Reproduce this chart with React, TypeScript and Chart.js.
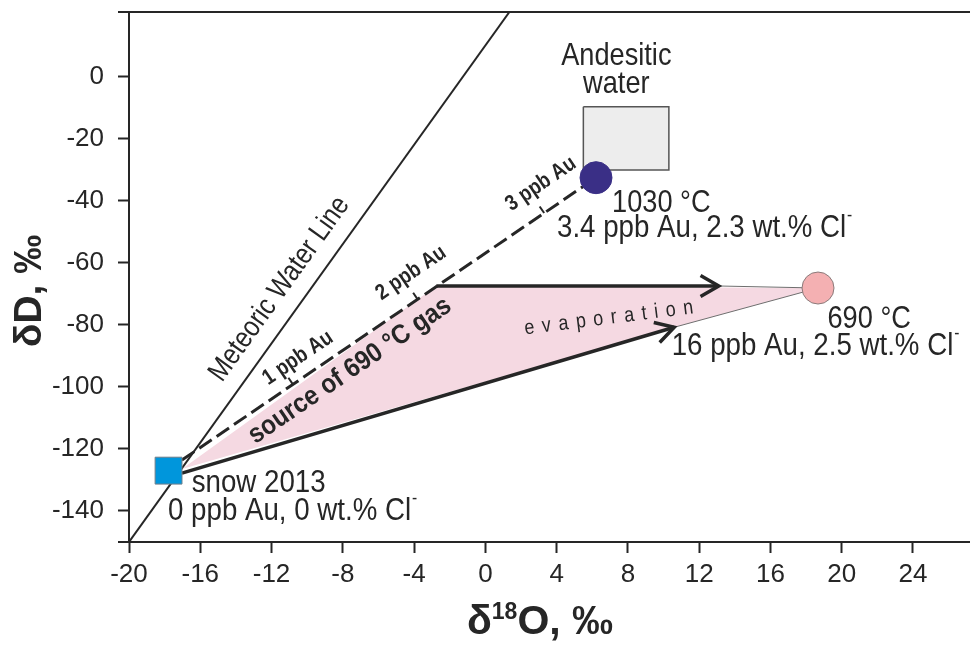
import React, { useEffect, useRef } from 'react';
import { Chart, registerables } from 'chart.js';
Chart.register(...registerables);

// ---------- axis ticks ----------
const xTickValues = [-20, -16, -12, -8, -4, 0, 4, 8, 12, 16, 20, 24];
const yTickValues = [-140, -120, -100, -80, -60, -40, -20, 0];

// ---------- data (δ18O, δD in ‰) ----------
// Meteoric Water Line  δD = 8·δ18O + 10
const mwlX = [-20, 1.35];
const mwlY = [-150, 20.8];

const snowX = [-17.78];
const snowY = [-127];

const magmaX = [6.21]; // 1030 °C
const magmaY = [-32.6];

const gasX = [18.67]; // 690 °C
const gasY = [-68.15];

const andesiticX = [5.5, 10.3, 10.3, 5.5, 5.5];
const andesiticY = [-9.7, -9.7, -30.1, -30.1, -9.7];

const mixingX = [-17.03, 6.21];
const mixingY = [-123.6, -32.6];

const auTickX = [-10.8, -3.8, 3.3];
const auTickLabels = ['1 ppb Au', '2 ppb Au', '3 ppb Au'];

const upperArrowX = [-2.75, 13.1];
const upperArrowY = [-67.5, -67.5];
const upperTailX = [13.1, 18.67];
const upperTailY = [-67.5, -68.15];

const lowerArrowX = [-17.03, 10.6];
const lowerArrowY = [-127.8, -80.8];
const lowerTailX = [10.6, 18.67];
const lowerTailY = [-80.8, -68.15];

const fieldX = [-17.03, -2.75, 18.67, 10.6];
const fieldY = [-126.5, -67.5, -68.15, -80.8];

// ---------- styling / layout ----------
const FONT = "'Liberation Sans', Arial, Helvetica, sans-serif";
const INK = '#262626';
const COND = 0.865; // horizontal condensing of annotation text

const pts = (xs: number[], ys: number[]) => xs.map((x, i) => ({ x, y: ys[i] }));

type Lbl = {
  text: string; x: number; y: number; size: number; bold?: boolean;
  align?: 'left' | 'center'; baseline?: CanvasTextBaseline;
  along?: 'mwl' | 'mix'; angle?: number; spacing?: number; sup?: string; h?: number;
};

const labels: Lbl[] = [
  { text: 'Andesitic', x: 7.35, y: 3.7, size: 32, align: 'center', h: 0.85 },
  { text: 'water', x: 7.35, y: -5.3, size: 32, align: 'center', h: 0.85 },
  { text: '1030 °C', x: 7.11, y: -43.6, size: 32, h: 0.85 },
  { text: '3.4 ppb Au, 2.3 wt.% Cl', sup: '-', x: 4.02, y: -51.7, size: 32 },
  { text: '690 °C', x: 19.2, y: -81, size: 32, h: 0.85 },
  { text: '16 ppb Au, 2.5 wt.% Cl', sup: '-', x: 10.46, y: -89.7, size: 32 },
  { text: 'snow 2013', x: -16.48, y: -133.8, size: 32 },
  { text: '0 ppb Au, 0 wt.% Cl', sup: '-', x: -17.81, y: -142.9, size: 32 },
  { text: 'Meteoric Water Line', x: -11.55, y: -68.5, size: 29, align: 'center', baseline: 'middle', along: 'mwl', h: 0.85 },
  { text: 'source of 690 °C gas', x: -7.6, y: -94.8, size: 27, bold: true, align: 'center', baseline: 'middle', along: 'mix', h: 0.9 },
  { text: auTickLabels[0], x: -10.52, y: -90.7, size: 22, bold: true, align: 'center', baseline: 'middle', along: 'mix', h: 0.85 },
  { text: auTickLabels[1], x: -4.17, y: -63.3, size: 22, bold: true, align: 'center', baseline: 'middle', along: 'mix', h: 0.85 },
  { text: auTickLabels[2], x: 3.12, y: -34.6, size: 22, bold: true, align: 'center', baseline: 'middle', along: 'mix', h: 0.85 },
  { text: 'evaporation', x: 6.97, y: -79.7, size: 21, align: 'center', angle: -7.2, spacing: 9, h: 0.85 },
];

function drawText(ctx: CanvasRenderingContext2D, l: Lbl, x: number, y: number, angle: number) {
  const h = l.h ?? COND;
  ctx.save();
  ctx.translate(x, y);
  ctx.rotate(angle);
  ctx.scale(h, 1);
  ctx.fillStyle = INK;
  const mainFont = `${l.bold ? 'bold ' : ''}${l.size}px ${FONT}`;
  ctx.font = mainFont;
  (ctx as any).letterSpacing = `${l.spacing || 0}px`;
  ctx.textAlign = 'left';
  ctx.textBaseline = l.baseline || 'alphabetic';
  const w = ctx.measureText(l.text).width - (l.spacing || 0);
  let supW = 0;
  const supSize = Math.round(l.size * 0.55);
  if (l.sup) {
    ctx.font = `${supSize}px ${FONT}`;
    supW = ctx.measureText(l.sup).width + 1;
    ctx.font = mainFont;
  }
  const total = w + supW;
  const x0 = l.align === 'center' ? -total / 2 : 0;
  ctx.fillText(l.text, x0, 0);
  if (l.sup) {
    ctx.font = `${supSize}px ${FONT}`;
    ctx.fillText(l.sup, x0 + w + 1, -l.size * 0.5);
  }
  ctx.restore();
}

const overlay = {
  id: 'overlay',
  afterDatasetsDraw(chart: any) {
    const { ctx, chartArea: a, scales } = chart;
    const xs = scales.x, ys = scales.y;
    const px = (v: number) => xs.getPixelForValue(v);
    const py = (v: number) => ys.getPixelForValue(v);
    ctx.save();
    // frame: top line + small extensions
    ctx.strokeStyle = INK;
    ctx.lineWidth = 2;
    ctx.beginPath();
    ctx.moveTo(a.left - 11, a.top);
    ctx.lineTo(a.right, a.top);
    ctx.moveTo(a.left - 11, a.bottom);
    ctx.lineTo(a.left, a.bottom);
    ctx.stroke();

    // arrow heads
    chart.data.datasets.forEach((ds: any, i: number) => {
      if (!ds.arrowHead) return;
      const d = chart.getDatasetMeta(i).data;
      const p1 = d[d.length - 2], p2 = d[d.length - 1];
      const ang = Math.atan2(p2.y - p1.y, p2.x - p1.x);
      const L = 21, sp = 0.52;
      ctx.beginPath();
      ctx.moveTo(p2.x - L * Math.cos(ang - sp), p2.y - L * Math.sin(ang - sp));
      ctx.lineTo(p2.x, p2.y);
      ctx.lineTo(p2.x - L * Math.cos(ang + sp), p2.y - L * Math.sin(ang + sp));
      ctx.lineWidth = 3.5;
      ctx.lineJoin = 'miter';
      ctx.lineCap = 'butt';
      ctx.strokeStyle = INK;
      ctx.stroke();
    });

    // Au ticks on mixing line
    const mdx = px(mixingX[1]) - px(mixingX[0]);
    const mdy = py(mixingY[1]) - py(mixingY[0]);
    const mlen = Math.hypot(mdx, mdy);
    const nx = mdy / mlen, ny = -mdx / mlen;
    ctx.lineWidth = 2;
    auTickX.forEach((xv) => {
      const t = (xv - mixingX[0]) / (mixingX[1] - mixingX[0]);
      const yv = mixingY[0] + t * (mixingY[1] - mixingY[0]);
      const bx = px(xv), by = py(yv);
      ctx.beginPath();
      ctx.moveTo(bx, by);
      ctx.lineTo(bx + nx * 8, by + ny * 8);
      ctx.stroke();
    });

    // annotation texts
    const angMwl = Math.atan2(py(mwlY[1]) - py(mwlY[0]), px(mwlX[1]) - px(mwlX[0]));
    const angMix = Math.atan2(mdy, mdx);
    labels.forEach((l) => {
      let ang = 0;
      if (l.along === 'mwl') ang = angMwl;
      else if (l.along === 'mix') ang = angMix;
      else if (l.angle) ang = (l.angle * Math.PI) / 180;
      drawText(ctx, l, px(l.x), py(l.y), ang);
    });

    // axis titles
    ctx.fillStyle = INK;
    ctx.textBaseline = 'middle';
    ctx.textAlign = 'center';
    ctx.save();
    ctx.translate(30, 291);
    ctx.rotate(-Math.PI / 2);
    ctx.font = `bold 39px ${FONT}`;
    ctx.fillText('δD, ‰', 0, 0);
    ctx.restore();

    ctx.textAlign = 'left';
    ctx.textBaseline = 'alphabetic';
    const big = `bold 41px ${FONT}`, small = `bold 23px ${FONT}`;
    ctx.font = big;
    const w1 = ctx.measureText('δ').width;
    const w3 = ctx.measureText('O, ‰').width;
    ctx.font = small;
    const w2 = ctx.measureText('18').width;
    const cx = 540;
    const sx = cx - (w1 + w2 + w3) / 2;
    const base = 634;
    ctx.font = big;
    ctx.fillText('δ', sx, base);
    ctx.font = small;
    ctx.fillText('18', sx + w1, base - 15);
    ctx.font = big;
    ctx.fillText('O, ‰', sx + w1 + w2, base);
    ctx.restore();
  },
};

export default function App() {
  const ref = useRef<HTMLCanvasElement>(null);
  useEffect(() => {
    if (!ref.current) return;
    const line = (xs: number[], ys: number[], extra: any) => ({
      data: pts(xs, ys),
      showLine: true,
      pointRadius: 0,
      tension: 0,
      fill: false,
      borderColor: INK,
      ...extra,
    });
    const chart = new Chart(ref.current, {
      type: 'line',
      data: {
        datasets: [
          { label: 'snow 2013', data: pts(snowX, snowY), showLine: false, pointStyle: 'rect', pointRadius: 19, backgroundColor: '#0096dc', borderColor: '#6f7f8a', borderWidth: 1, order: 1 },
          { label: '1030 °C', data: pts(magmaX, magmaY), showLine: false, pointStyle: 'circle', pointRadius: 16, backgroundColor: '#3a2f86', borderColor: '#3a2f86', borderWidth: 1, order: 2 },
          { label: '690 °C', data: pts(gasX, gasY), showLine: false, pointStyle: 'circle', pointRadius: 16, backgroundColor: '#f4b0b2', borderColor: '#8a7a7a', borderWidth: 1, order: 3 },
          line(mixingX, mixingY, { label: 'mixing', borderWidth: 3, borderDash: [15, 6], order: 5 }),
          line(upperArrowX, upperArrowY, { label: 'upper', borderWidth: 3.5, arrowHead: true, order: 6 }),
          line(lowerArrowX, lowerArrowY, { label: 'lower', borderWidth: 3.5, arrowHead: true, order: 6 }),
          line(upperTailX, upperTailY, { label: 'upperTail', borderWidth: 1, borderColor: '#6e6e6e', order: 7 }),
          line(lowerTailX, lowerTailY, { label: 'lowerTail', borderWidth: 1, borderColor: '#6e6e6e', order: 7 }),
          line(mwlX, mwlY, { label: 'Meteoric Water Line', borderWidth: 2, order: 8 }),
          line(andesiticX, andesiticY, { label: 'Andesitic water', borderWidth: 1.5, borderColor: '#555', backgroundColor: '#ededed', fill: 'shape', order: 9 }),
          line(fieldX, fieldY, { label: 'field', borderWidth: 0, borderColor: 'rgba(0,0,0,0)', backgroundColor: '#f5d9e2', fill: 'shape', order: 10 }),
        ] as any,
      },
      options: {
        responsive: false,
        animation: false,
        devicePixelRatio: 1,
        events: [],
        layout: { autoPadding: false, padding: { top: 12, left: 0, right: 0, bottom: 0 } },
        plugins: { legend: { display: false }, tooltip: { enabled: false } },
        scales: {
          x: {
            type: 'linear',
            min: -20,
            max: 27.2,
            afterBuildTicks: (s: any) => { s.ticks = xTickValues.map((value) => ({ value })); },
            afterFit: (s: any) => { s.height = 106; s.paddingLeft = 0; s.paddingRight = 0; },
            ticks: { font: { family: FONT, size: 26 }, color: INK, padding: 6, maxRotation: 0, autoSkip: false, callback: (v: any) => String(v) },
            grid: { drawOnChartArea: false, drawTicks: true, tickLength: 11, tickWidth: 2, tickColor: INK },
            border: { color: INK, width: 2 },
          },
          y: {
            type: 'linear',
            min: -150,
            max: 20.8,
            afterBuildTicks: (s: any) => { s.ticks = yTickValues.map((value) => ({ value })); },
            afterFit: (s: any) => { s.width = 129; s.paddingTop = 0; s.paddingBottom = 0; },
            ticks: { font: { family: FONT, size: 26 }, color: INK, padding: 14, autoSkip: false, callback: (v: any) => String(v) },
            grid: { drawOnChartArea: false, drawTicks: true, tickLength: 11, tickWidth: 2, tickColor: INK },
            border: { color: INK, width: 2 },
          },
        },
      } as any,
      plugins: [overlay],
    });
    return () => chart.destroy();
  }, []);
  return (
    <div style={{ position: 'absolute', left: 0, top: 0, width: 970, height: 648, background: '#fff' }}>
      <canvas ref={ref} width={970} height={648} style={{ display: 'block' }} />
    </div>
  );
}
